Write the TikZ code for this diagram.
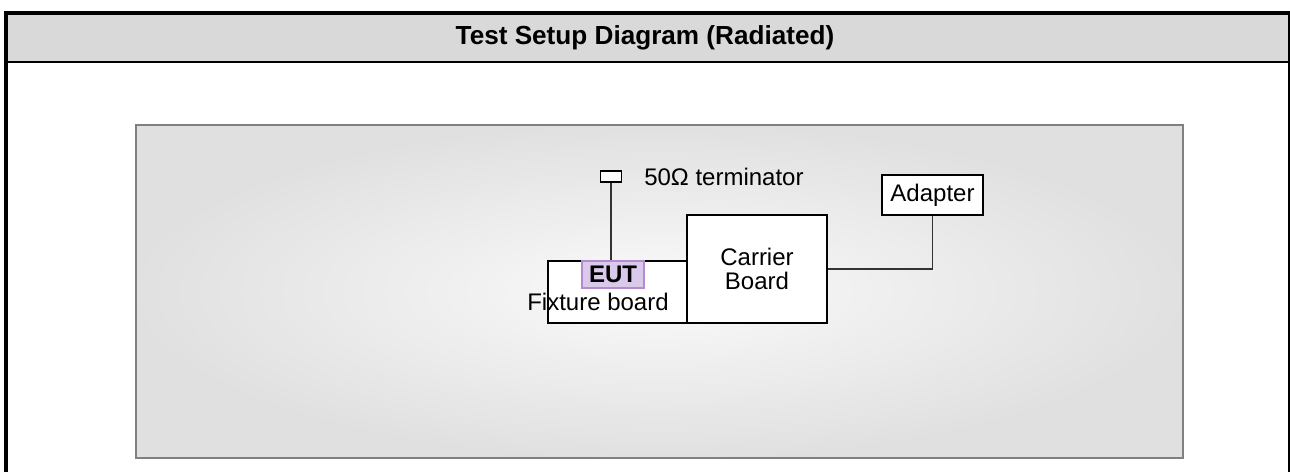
\documentclass[tikz,border=0pt]{standalone}
\usepackage{fontspec}
\setmainfont{Liberation Sans}
\definecolor{headgray}{RGB}{217,217,217}
\definecolor{eutfill}{RGB}{218,201,234}
\definecolor{eutline}{RGB}{178,140,206}
\begin{document}
\begin{tikzpicture}[
      x=0.75pt, y=-0.75pt,
      txt/.style={font=\fontsize{18}{17.5}\selectfont, inner sep=0pt},
      box/.style={rectangle, draw, line width=1.2pt, fill=white,
                  align=center, inner sep=0pt, txt},
      wire/.style={line width=1.2pt, draw=black!80},
    ]
    \useasboundingbox (0,0) rectangle (1290,472);

    % Frame and header band
    \fill[headgray] (8,15) rectangle (1289,62);
    \fill[black] (4,11) rectangle (1290,15);
    \fill[black] (4,11) rectangle (8,472);
    \draw[line width=1.6pt] (8,62) -- (1289,62);
    \draw[line width=0.9pt] (1289,15) -- (1289,472);
    \node[font=\fontsize{19.6}{24}\selectfont\bfseries, inner sep=0pt]
      (title) at (645,38) {Test Setup Diagram (Radiated)};

    % Test bench panel
    \shade[inner color=gray!4, outer color=gray!24]
      (136,125) rectangle (1183,458);
    \draw[line width=1.8pt, black!50] (136,125) rectangle (1183,458);

    % Boards
    \node[box, minimum width=104.25pt, minimum height=46.5pt] (fix) at (617.5,292) {};
    \node[box, minimum width=105pt, minimum height=81pt] (car) at (757,269)
      {Carrier\\Board};
    \node[box, minimum width=75.75pt, minimum height=30pt] (adp) at (932.5,195)
      {Adapter};

    % EUT tag and fixture label
    \node[box, fill=eutfill, draw=eutline, line width=1.5pt, font=\fontsize{18}{17.5}\selectfont\bfseries,
          minimum width=46.5pt, minimum height=20.25pt] (eut) at (613,274.5) {EUT};
    \node[txt] (fixlbl) at (598,302) {Fixture board};

    % Terminator
    \node[box, line width=1.3pt, minimum width=15.75pt, minimum height=8.25pt]
      (term) at (611,176.5) {};
    \node[txt, anchor=west] (termlbl) at (644,177) {50Ω terminator};

    % Wiring
    \draw[wire] (term.south) -- (term.south |- fix.north);
    \draw[wire] (car.east) -| (adp.south);

    \end{tikzpicture}
\end{document}
